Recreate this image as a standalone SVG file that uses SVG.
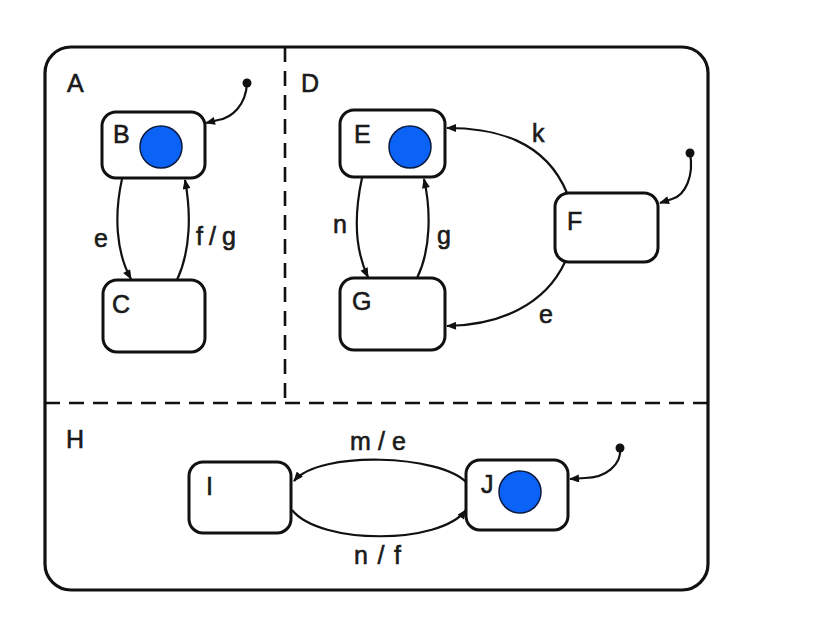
<svg xmlns="http://www.w3.org/2000/svg" width="828" height="626" viewBox="0 0 828 626">
<defs>
<style>
.box{fill:#fff;stroke:#111;stroke-width:3}
.frame{fill:none;stroke:#111;stroke-width:3.2}
.dash{fill:none;stroke:#111;stroke-width:2.6;stroke-dasharray:15 9}
.edge{fill:none;stroke:#111;stroke-width:2.2}
.lbl{font-family:"Liberation Sans",Arial,sans-serif;font-size:25px;fill:#1a1a1a;stroke:#1a1a1a;stroke-width:0.6}
.tok{fill:#0b63f6;stroke:#0a1a40;stroke-width:1.5}
.dot{fill:#111}
</style>
<marker id="arr" viewBox="0 0 10 8" refX="9" refY="4" markerWidth="11" markerHeight="8" markerUnits="userSpaceOnUse" orient="auto">
<path d="M0,0 L10,4 L0,8 Z" fill="#111"/>
</marker>
</defs>
<rect width="828" height="626" fill="#fff"/>
<g id="frame">
<rect class="frame" x="45" y="47" width="663" height="543" rx="26"/>
<line class="dash" x1="285" y1="47" x2="285" y2="403"/>
<line class="dash" x1="45" y1="403" x2="708" y2="403"/>
<text class="lbl" x="67" y="92">A</text>
<text class="lbl" x="301" y="92">D</text>
<text class="lbl" x="66" y="448">H</text>
</g>
<g id="connectors">
<path class="edge" d="M122,179 C114,215 116,252 131,279" marker-end="url(#arr)"/>
<path class="edge" d="M177,280 C191,250 191,212 185,180" marker-end="url(#arr)"/>
<circle class="dot" cx="247" cy="83" r="4.5"/>
<path class="edge" d="M247,83 C246,105 232,118 218,120 L206,123" marker-end="url(#arr)"/>
<path class="edge" d="M362,178 C354,215 355,250 368,277" marker-end="url(#arr)"/>
<path class="edge" d="M417,278 C431,250 431,210 424,179" marker-end="url(#arr)"/>
<path class="edge" d="M567,193 C545,140 495,128 447,128" marker-end="url(#arr)"/>
<path class="edge" d="M565,262 C545,305 500,325 447,326" marker-end="url(#arr)"/>
<circle class="dot" cx="690" cy="153" r="4.5"/>
<path class="edge" d="M690,153 C694,175 686,195 672,199 L660,203" marker-end="url(#arr)"/>
<path class="edge" d="M466,482 C440,455 320,450 294,481" marker-end="url(#arr)"/>
<path class="edge" d="M292,510 C320,545 440,545 466,510" marker-end="url(#arr)"/>
<circle class="dot" cx="620" cy="448" r="4.5"/>
<path class="edge" d="M620,448 C622,465 605,478 585,478 L570,479" marker-end="url(#arr)"/>
<text class="lbl" x="94" y="247">e</text>
<text class="lbl" x="196" y="245" textLength="40">f/g</text>
<text class="lbl" x="333" y="233">n</text>
<text class="lbl" x="437" y="244">g</text>
<text class="lbl" x="532" y="142">k</text>
<text class="lbl" x="539" y="323">e</text>
<text class="lbl" x="350" y="450" textLength="56">m/e</text>
<text class="lbl" x="354" y="564" textLength="47">n/f</text>
</g>
<g id="B">
<rect class="box" x="102" y="112" width="103" height="66" rx="14"/>
<text class="lbl" x="113" y="143">B</text>
<circle class="tok" cx="161" cy="147" r="21"/>
</g>
<g id="C">
<rect class="box" x="103" y="280" width="102" height="72" rx="14"/>
<text class="lbl" x="112" y="313">C</text>
</g>
<g id="E">
<rect class="box" x="340" y="110" width="105" height="67" rx="14"/>
<text class="lbl" x="354" y="143">E</text>
<circle class="tok" cx="410" cy="147" r="21"/>
</g>
<g id="G">
<rect class="box" x="340" y="278" width="105" height="72" rx="14"/>
<text class="lbl" x="352" y="310">G</text>
</g>
<g id="F">
<rect class="box" x="555" y="193" width="103" height="69" rx="14"/>
<text class="lbl" x="567" y="230">F</text>
</g>
<g id="I">
<rect class="box" x="189" y="462" width="102" height="71" rx="14"/>
<text class="lbl" x="206" y="495">I</text>
</g>
<g id="J">
<rect class="box" x="466" y="460" width="102" height="70" rx="14"/>
<text class="lbl" x="481" y="493">J</text>
<circle class="tok" cx="520" cy="492" r="21"/>
</g>
</svg>
